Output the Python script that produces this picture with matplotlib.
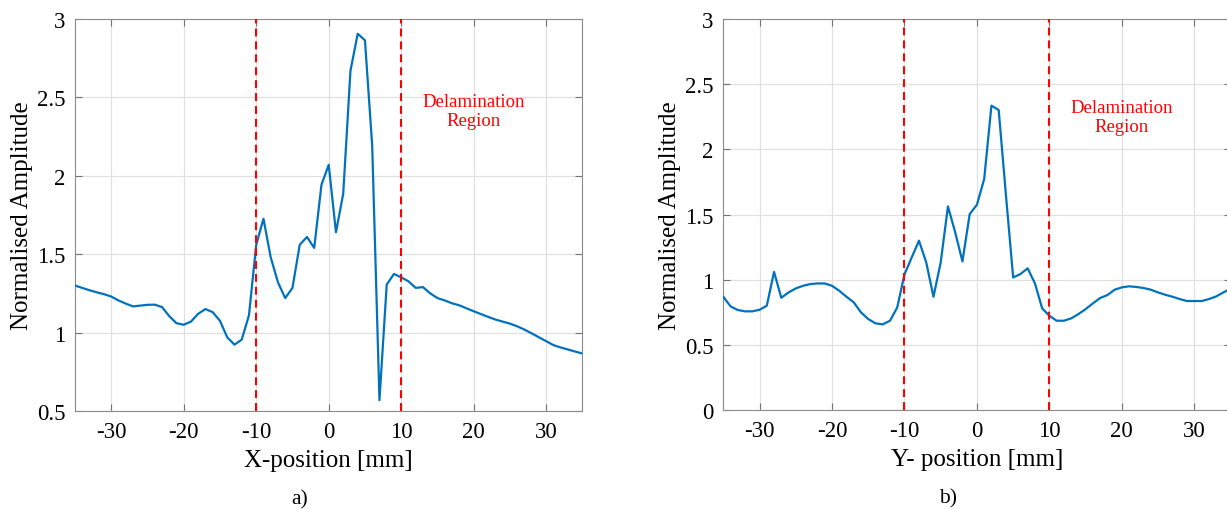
import numpy as np
import matplotlib.pyplot as plt
from matplotlib.ticker import FormatStrFormatter

plt.rcParams['font.family'] = ['Liberation Serif', 'DejaVu Serif']
plt.rcParams['axes.unicode_minus'] = False

# scan positions [mm]
pos = np.arange(-35, 36)

# normalised amplitude along X
amp_x = [1.30, 1.285, 1.27, 1.257, 1.245, 1.23, 1.205, 1.185, 1.167, 1.172,
         1.177, 1.178, 1.163, 1.105, 1.06, 1.05, 1.07, 1.12, 1.15, 1.13,
         1.075, 0.97, 0.923, 0.955, 1.11, 1.56, 1.726, 1.48, 1.32, 1.22,
         1.285, 1.56, 1.61, 1.54, 1.943, 2.07, 1.64, 1.885, 2.67, 2.906,
         2.864, 2.19, 0.569, 1.306, 1.374, 1.352, 1.327, 1.285, 1.29, 1.25,
         1.22, 1.205, 1.187, 1.174, 1.155, 1.136, 1.118, 1.10, 1.083, 1.07,
         1.057, 1.04, 1.019, 0.995, 0.97, 0.945, 0.92, 0.905, 0.892, 0.879,
         0.866]

# normalised amplitude along Y
amp_y = [0.869, 0.795, 0.767, 0.757, 0.757, 0.769, 0.80, 1.06, 0.861, 0.902,
         0.933, 0.953, 0.966, 0.971, 0.971, 0.953, 0.915, 0.869, 0.826, 0.749,
         0.698, 0.665, 0.657, 0.685, 0.787, 1.04, 1.171, 1.299, 1.133, 0.869,
         1.133, 1.562, 1.363, 1.14, 1.503, 1.575, 1.772, 2.335, 2.302, 1.65,
         1.017, 1.043, 1.087, 0.972, 0.78, 0.723, 0.685, 0.685, 0.703, 0.736,
         0.774, 0.818, 0.859, 0.882, 0.923, 0.941, 0.949, 0.944, 0.936, 0.923,
         0.902, 0.884, 0.869, 0.851, 0.836, 0.836, 0.836, 0.851, 0.871, 0.902,
         0.93]

region = [-10, 10]

fig = plt.figure(figsize=(12.27, 5.10), dpi=100)
ax1 = fig.add_axes([0.0611, 0.1922, 0.4136, 0.7686])
ax2 = fig.add_axes([0.5895, 0.1941, 0.4134, 0.7667])

def style(ax, y, xlabel, ylim, yticks, text_y, tag):
    ax.plot(pos, y, color='#0072BD', lw=1.6, zorder=3)
    for r in region:
        ax.axvline(r, color='red', ls=(0, (3.8, 2.4)), lw=1.5, zorder=4)
    ax.text(20, text_y, 'Delamination\nRegion', color='red', fontsize=13.5,
            ha='center', va='center', linespacing=1.15)
    ax.set_xlim(-35, 35)
    ax.set_ylim(*ylim)
    ax.set_xticks([-30, -20, -10, 0, 10, 20, 30])
    ax.set_yticks(yticks)
    ax.yaxis.set_major_formatter(FormatStrFormatter('%g'))
    ax.grid(True, color='0.88', lw=0.9)
    ax.tick_params(direction='in', top=True, right=True, labelsize=16.5,
                   color='0.45', length=5, pad=7)
    for s in ax.spines.values():
        s.set_color('0.55')
    ax.set_xlabel(xlabel, fontsize=18, labelpad=5)
    ax.set_ylabel('Normalised Amplitude', fontsize=18, labelpad=3)
    ax.text(0.443, -0.225, tag, transform=ax.transAxes, fontsize=15.5,
            ha='center', va='center')

style(ax1, amp_x, 'X-position [mm]', (0.5, 3), [0.5, 1, 1.5, 2, 2.5, 3], 2.414, 'a)')
style(ax2, amp_y, 'Y- position [mm]', (0, 3), [0, 0.5, 1, 1.5, 2, 2.5, 3], 2.248, 'b)')

fig.savefig('out.png', dpi=100)
